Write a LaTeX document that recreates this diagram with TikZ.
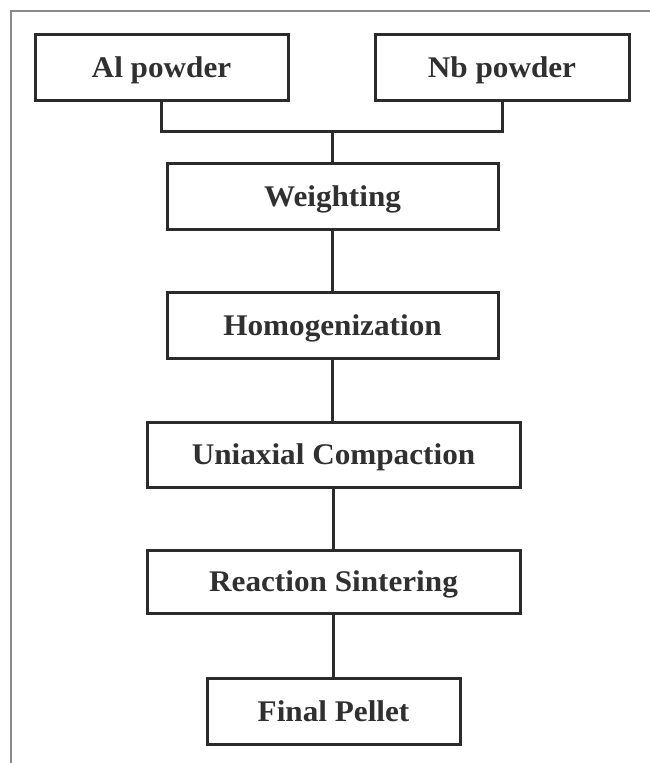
\documentclass[tikz,border=0pt]{standalone}
\usepackage{fontspec}
\setmainfont{Liberation Serif}[FakeStretch=1.04]
\definecolor{inkc}{HTML}{2B2B2B}
\definecolor{textc}{HTML}{303030}
\definecolor{framec}{HTML}{8A8A8A}
\begin{document}
\begin{tikzpicture}[x=1pt,y=-1pt,
  stepbox/.style={draw=inkc, line width=3pt, rectangle, inner sep=0pt,
    minimum height=66pt, text=textc, text height=20pt, text depth=0pt,
    font=\fontsize{30}{32}\selectfont\bfseries},
  link/.style={draw=inkc, line width=3pt}]
\useasboundingbox (0,0) rectangle (650,763);
\fill[white] (0,0) rectangle (650,763);
\draw[framec, line width=2pt] (650,11) -- (11,11) -- (11,763);

\node[stepbox, minimum width=253pt] (al) at (161.5,67) {Al powder};
\node[stepbox, minimum width=254pt] (nb) at (502,67) {Nb powder};
\node[stepbox, minimum width=331pt] (weigh) at (332.5,196) {Weighting};
\node[stepbox, minimum width=331pt] (homo) at (332.5,325) {Homogenization};
\node[stepbox, minimum width=373pt, minimum height=65pt] (uni) at (333.5,454.5) {Uniaxial Compaction};
\node[stepbox, minimum width=373pt, minimum height=63pt] (reac) at (333.5,581.5) {Reaction Sintering};
\node[stepbox, minimum width=253pt] (final) at (333.5,711) {Final Pellet};

\coordinate (j) at (332.5,131);
\draw[link] (al.south) |- (j) -| (nb.south);
\draw[link] (j) -- (weigh.north);
\draw[link] (weigh.south) -- (homo.north);
\draw[link] (homo.south) -- (homo.south |- uni.north);
\draw[link] (uni.south) -- (reac.north);
\draw[link] (reac.south) -- (final.north);
\end{tikzpicture}
\end{document}
